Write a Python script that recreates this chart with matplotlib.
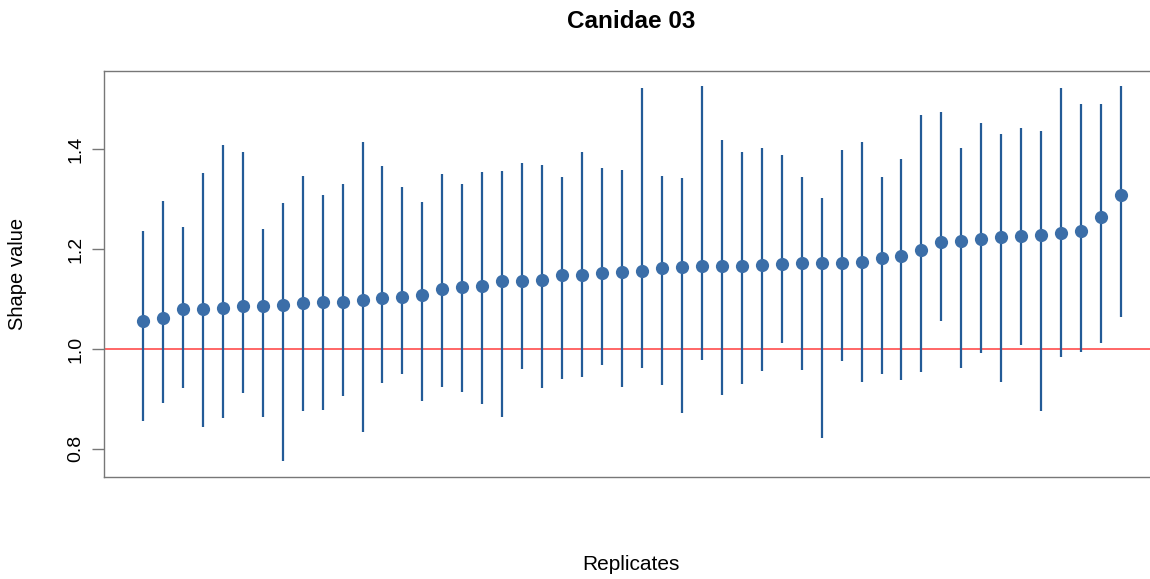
import numpy as np
import matplotlib
matplotlib.use("Agg")
import matplotlib.pyplot as plt

plt.rcParams['font.family'] = ['Liberation Sans', 'DejaVu Sans']

# mean shape value and interval per replicate (sorted by mean)
means = [1.056, 1.062, 1.080, 1.080, 1.083, 1.087, 1.087, 1.088, 1.093, 1.094,
         1.094, 1.098, 1.103, 1.105, 1.108, 1.121, 1.125, 1.127, 1.137, 1.137,
         1.139, 1.149, 1.149, 1.153, 1.155, 1.157, 1.163, 1.164, 1.166, 1.166,
         1.167, 1.169, 1.171, 1.172, 1.172, 1.173, 1.175, 1.183, 1.187, 1.198,
         1.215, 1.216, 1.220, 1.225, 1.227, 1.229, 1.233, 1.237, 1.265, 1.308]
upper = [1.237, 1.297, 1.245, 1.352, 1.409, 1.394, 1.241, 1.292, 1.347, 1.309,
         1.331, 1.415, 1.367, 1.325, 1.295, 1.350, 1.331, 1.355, 1.356, 1.372,
         1.369, 1.345, 1.394, 1.363, 1.359, 1.523, 1.347, 1.342, 1.527, 1.419,
         1.394, 1.402, 1.389, 1.345, 1.302, 1.398, 1.415, 1.345, 1.380, 1.469,
         1.474, 1.403, 1.453, 1.430, 1.443, 1.436, 1.522, 1.490, 1.491, 1.526]
lower = [0.855, 0.891, 0.922, 0.843, 0.862, 0.911, 0.864, 0.775, 0.875, 0.877,
         0.905, 0.833, 0.932, 0.949, 0.895, 0.924, 0.913, 0.889, 0.864, 0.959,
         0.921, 0.940, 0.944, 0.967, 0.923, 0.961, 0.927, 0.872, 0.977, 0.908,
         0.930, 0.955, 1.012, 0.958, 0.821, 0.976, 0.933, 0.950, 0.937, 0.953,
         1.057, 0.961, 0.992, 0.933, 1.007, 0.876, 0.984, 0.994, 1.011, 1.065]

reps = np.arange(1, len(means) + 1)

fig = plt.figure(figsize=(11.5, 5.79), dpi=100)
ax = fig.add_axes([104 / 1150, 1 - 476.5 / 579, (1160 - 104) / 1150, (476.5 - 71) / 579])

ax.vlines(reps, lower, upper, color="#235b97", linewidth=1.6, zorder=2)
ax.plot(reps, means, "o", color="#3b6ea8", markersize=9.5, markeredgewidth=0, zorder=3)
ax.axhline(1.0, color="#ff4d4d", linewidth=1.2, zorder=1)

ax.set_xlim(1 - 1.95, 50 + 1.95)
ax.set_ylim(0.7445, 1.557)
ax.set_xticks([])
ax.set_yticks([0.8, 1.0, 1.2, 1.4])
ax.set_yticklabels(["0.8", "1.0", "1.2", "1.4"], rotation=90, va="center", fontsize=14)
ax.tick_params(axis="y", length=9, width=1, color="#777777", pad=5)

for s in ax.spines.values():
    s.set_color("#777777")
    s.set_linewidth(1)

fig.text(631 / 1150, 1 - 21 / 579, "Canidae 03", ha="center", va="center",
         fontsize=17.5, fontweight="bold")
fig.text(631 / 1150, 1 - 564 / 579, "Replicates", ha="center", va="center", fontsize=15)
fig.text(18 / 1150, 1 - 274 / 579, "Shape value", ha="center", va="center",
         rotation=90, fontsize=14.5)

fig.savefig("out.png", dpi=100)
